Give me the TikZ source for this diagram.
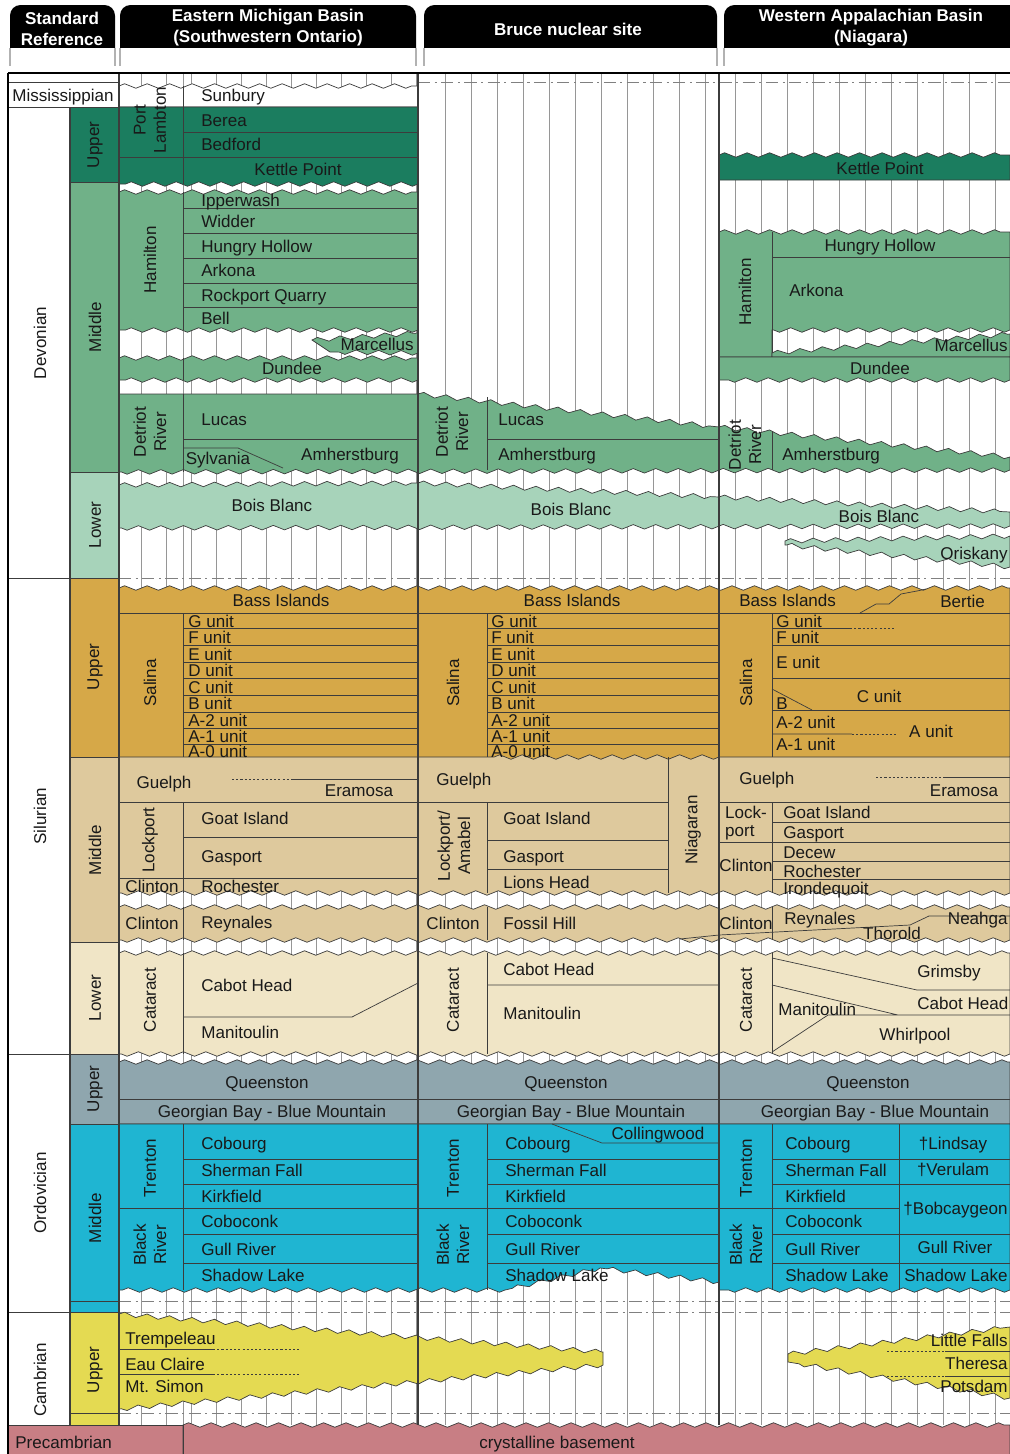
\documentclass[tikz,border=0pt]{standalone}
\usepackage{fontspec}
\setmainfont{Liberation Sans}
\usetikzlibrary{decorations.pathmorphing}

\definecolor{devU}{RGB}{27,125,95}
\definecolor{devM}{RGB}{112,177,136}
\definecolor{devL}{RGB}{167,211,186}
\definecolor{silU}{RGB}{214,168,72}
\definecolor{silM}{RGB}{222,201,157}
\definecolor{silL}{RGB}{240,229,198}
\definecolor{ordU}{RGB}{143,166,174}
\definecolor{ordM}{RGB}{31,181,210}
\definecolor{camU}{RGB}{228,218,82}
\definecolor{preC}{RGB}{200,126,132}
\definecolor{edge}{RGB}{60,60,60}
\definecolor{hatch}{RGB}{150,150,150}
\definecolor{ink}{RGB}{25,25,25}

\begin{document}
\begin{tikzpicture}[x=0.02cm, y=-0.02cm, font=\fontsize{9.7}{11.5}\selectfont,
  zz/.style={decoration={zigzag, segment length=0.45cm, amplitude=0.045cm}},
  fm/.style={fill=#1, draw=edge, line width=0.4pt, zz},
  cell/.style={fill=#1, draw=edge, line width=0.4pt},
  ln/.style={draw=edge, line width=0.4pt},
  dln/.style={draw=edge, line width=0.5pt, dash pattern=on 1.2pt off 1.2pt},
  dd/.style={draw=black!50, line width=0.5pt, dash pattern=on 7pt off 2.5pt on 1.2pt off 2.5pt},
  hl/.style={draw=hatch, line width=0.35pt},
  lbl/.style={inner sep=0pt, text=ink, text height=8.2pt, text depth=1pt, anchor=west},
  clbl/.style={inner sep=0pt, text=ink, text height=8.2pt, text depth=1pt},
  vlbl/.style={inner sep=0pt, text=ink, rotate=90, align=center},
  hdr/.style={text=white, font=\fontsize{9.7}{12}\selectfont\bfseries, align=center}]

\useasboundingbox (0,0) rectangle (1010,1454);
\clip (0,0) rectangle (1010,1454);

% cabecalho
\foreach \a/\b in {10/115, 120/416, 424/717, 724/1030} {
  \fill[black, rounded corners=6pt] (\a,5) rectangle (\b,62);
  \fill[white] (\a-1,48) rectangle (\b+1,64);
  \draw[black!30, line width=0.8pt] (\a,48) -- (\a,66) (\b,48) -- (\b,66);
}
\node[hdr] (hd-std) at (62,29) {Standard\\Reference};
\node[hdr] (hd-mich) at (268,28) {Eastern Michigan Basin\\(Southwestern Ontario)};
\node[hdr] (hd-bruce) at (568,29) {Bruce nuclear site};
\node[hdr] (hd-app) at (871,28) {Western Appalachian Basin\\(Niagara)};

% grade de lacunas
\draw[hl] (183,74) -- (183,1425);
\foreach \x in {141,166,...,417} \draw[hl] (\x,74) -- (\x,1425);
\foreach \x in {445,471,...,712} \draw[hl] (\x,74) -- (\x,1425);
\foreach \x in {735,761,...,1008} \draw[hl] (\x,74) -- (\x,1425);
\draw[dd] (418,82) -- (1010,82);
\foreach \y in {578,1301,1312,1413} \draw[dd] (119,\y) -- (1010,\y);

% coluna padrao
\path[cell=white] (8,82) rectangle (119,107);
\path[cell=white] (8,107) rectangle (70,578);
\path[cell=devU] (70,107) rectangle (119,182);
\path[cell=devM] (70,182) rectangle (119,472);
\path[cell=devL] (70,472) rectangle (119,578);
\path[cell=white] (8,578) rectangle (70,1054);
\path[cell=silU] (70,578) rectangle (119,757);
\path[cell=silM] (70,757) rectangle (119,942);
\path[cell=silL] (70,942) rectangle (119,1054);
\path[cell=white] (8,1054) rectangle (70,1312);
\path[cell=ordU] (70,1054) rectangle (119,1124);
\path[cell=ordM] (70,1124) rectangle (119,1312);
\path[cell=white] (8,1312) rectangle (70,1425);
\path[cell=camU] (70,1312) rectangle (119,1425);
\path[cell=preC] (8,1425) rectangle (183,1460);
\draw[ln] (70,1301) -- (119,1301) (70,1413) -- (119,1413);

% Devoniano
\path[fm=white] (119,86) decorate{-- (418,86)} -- (418,107) -- (119,107) -- cycle;
\path[fm=devU] (119,107) -- (418,107) -- (418,184) decorate{-- (119,184)} -- cycle;
\draw[ln] (183,86) -- (183,184) (183,132) -- (418,132) (119,157) -- (418,157);
\path[fm=devU] (719,155) decorate{-- (1010,155)} -- (1010,180) -- (719,180) -- cycle;
\path[fm=devM] (119,192) decorate{-- (418,192)} -- (418,330) decorate{-- (119,330)} -- cycle;
\draw[ln] (183,192) -- (183,330);
\foreach \y in {208,233,258,283,307} \draw[ln] (183,\y) -- (418,\y);
\path[fm=devM] (312,340) decorate{-- (418,333)} -- (418,353) decorate{-- (330,352)} -- cycle;
\path[fm=devM] (119,358) decorate{-- (418,358)} -- (418,380) decorate{-- (119,380)} -- cycle;
\draw[ln] (183,358) -- (183,380);
\path[fm=devM] (719,232) decorate{-- (1010,232)} -- (1010,330) decorate{-- (772,330)} -- (772,357) -- (719,357) -- cycle;
\draw[ln] (772,232) -- (772,357) (772,257) -- (1010,257);
\path[fm=devM] (772,353) decorate{-- (1010,334)} -- (1010,357) -- (772,357) -- cycle;
\path[fm=devM] (719,357) -- (1010,357) -- (1010,380) decorate{-- (719,380)} -- cycle;
\path[fm=devM] (119,394) -- (418,394) decorate{-- (719,427)} decorate{-- (1010,457)} -- (1010,470) decorate{-- (119,472)} -- cycle;
\draw[ln] (183,394) -- (183,472) (487,397) -- (487,470) (772,432) -- (772,470);
\draw[ln] (183,439) -- (418,439) (487,439) -- (719,439);
\draw[ln] (183,448) -- (238,448) -- (283,468);
\path[fm=devL] (119,485) decorate{-- (418,483)} decorate{-- (719,497)} decorate{-- (1010,512)} -- (1010,526) decorate{-- (119,528)} -- cycle;
\path[fm=devL] (785,541) decorate{-- (1010,536)} -- (1010,567) decorate{-- (785,545)} -- cycle;

% Siluriano
\path[fm=silM] (119,750) -- (1010,750) -- (1010,893) decorate{-- (119,893)} -- cycle;
\path[fm=silU] (119,588) decorate{-- (1010,588)} -- (1010,757) -- (719,757) decorate{-- (487,757)} -- (119,757) -- cycle;
\draw[ln] (119,613) -- (1010,613) (183,613) -- (183,757) (487,613) -- (487,757) (772,613) -- (772,757);
\foreach \y in {628,645,662,678,695,712,728,744} \draw[ln] (183,\y) -- (418,\y) (487,\y) -- (719,\y);
\draw[ln] (860,613) -- (876,604) -- (889,604) -- (901,594) -- (917,591) -- (926,589);
\draw[ln] (772,628) -- (850,628) (772,645) -- (1010,645) (772,678) -- (1010,678) (772,710) -- (1010,710);
\draw[ln] (772,689) -- (812,710) (772,734) -- (852,734);
\draw[dln] (850,628) -- (895,628) (852,734) -- (897,734);
\draw[ln] (119,802) -- (418,802) (183,837) -- (418,837) (119,878) -- (418,878) (183,802) -- (183,893);
\draw[dln] (232,779) -- (292,779);
\draw[ln] (292,779) -- (418,779);
\draw[ln] (418,802) -- (668,802) (487,840) -- (668,840) (487,869) -- (668,869) (487,802) -- (487,893) (668,757) -- (668,893);
\draw[ln] (719,802) -- (1010,802) (772,822) -- (1010,822) (719,842) -- (1010,842) (772,861) -- (1010,861) (772,879) -- (1010,879) (772,802) -- (772,893);
\draw[dln] (876,777) -- (943,777);
\draw[ln] (943,777) -- (1010,777);
\path[fm=silM] (119,907) decorate{-- (1010,907)} -- (1010,940) decorate{-- (119,940)} -- cycle;
\draw[ln] (183,907) -- (183,940) (487,907) -- (487,940) (772,907) -- (772,940);
\draw[ln] (680,939) -- (719,935) -- (910,925) -- (929,916) -- (1010,916);
\path[fm=silL] (119,953) decorate{-- (1010,953)} -- (1010,1054) decorate{-- (119,1054)} -- cycle;
\draw[ln] (183,953) -- (183,1054) (487,953) -- (487,1054) (772,953) -- (772,1054);
\draw[ln] (183,1017) -- (352,1017) -- (418,983) (487,985) -- (719,985);
\draw[ln] (772,958) -- (917,990) -- (1010,990) (772,985) -- (898,1015) (828,1015) -- (1010,1015) (828,1015) -- (772,1052);

% Ordoviciano
\path[fm=ordU] (119,1062) decorate{-- (1010,1062)} -- (1010,1124) -- (119,1124) -- cycle;
\draw[ln] (119,1099) -- (1010,1099);
\path[fm=ordM] (119,1124) -- (1010,1124) -- (1010,1290) decorate{-- (719,1290)} -- (719,1282) decorate{-- (600,1268)} decorate{-- (505,1290)} decorate{-- (119,1290)} -- cycle;
\draw[ln] (183,1124) -- (183,1290) (487,1124) -- (487,1290) (772,1124) -- (772,1290) (899,1124) -- (899,1290);
\foreach \y in {1159,1184,1234,1263} \draw[ln] (183,\y) -- (418,\y) (487,\y) -- (719,\y) (772,\y) -- (1010,\y);
\draw[ln] (119,1208) -- (719,1208) (719,1208) -- (899,1208);
\draw[ln] (552,1124) -- (602,1143) -- (719,1143);

% Cambriano
\path[fm=camU] (119,1314) decorate{-- (603,1352)} -- (603,1365) decorate{-- (119,1409)} -- cycle;
\draw[ln] (119,1349) -- (213,1349) (119,1374) -- (213,1374);
\draw[dln] (213,1349) -- (300,1349) (213,1374) -- (300,1374);
\path[fm=camU] (788,1354) decorate{-- (1010,1327)} -- (1010,1398) decorate{-- (788,1362)} -- cycle;
\draw[dln] (887,1351) -- (945,1351) (887,1376) -- (945,1376);
\draw[ln] (945,1351) -- (1010,1351) (945,1376) -- (1010,1376);

% Pre-cambriano
\path[fm=preC] (183,1425) decorate{-- (1010,1425)} -- (1010,1460) -- (183,1460) -- cycle;
\draw[ln] (183,1425) -- (183,1454);

% molduras
\draw[edge, line width=0.6pt] (119,73) -- (119,1425) (418,73) -- (418,1425) (719,73) -- (719,1425) (70,107) -- (70,1425);
\draw[line width=1.5pt] (8,73) -- (1010,73) (8,73) -- (8,1460);

% rotulos padrao
\node[clbl] (s-miss) at (63,95) {Mississippian};
\node[vlbl] (s-dev) at (40,343) {Devonian};
\node[vlbl] (s-devU) at (95,145) {Upper};
\node[vlbl] (s-devM) at (95,327) {Middle};
\node[vlbl] (s-devL) at (95,525) {Lower};
\node[vlbl] (s-sil) at (40,816) {Silurian};
\node[vlbl] (s-silU) at (95,667) {Upper};
\node[vlbl] (s-silM) at (95,850) {Middle};
\node[vlbl] (s-silL) at (95,998) {Lower};
\node[vlbl] (s-ord) at (40,1193) {Ordovician};
\node[vlbl] (s-ordU) at (95,1089) {Upper};
\node[vlbl] (s-ordM) at (95,1218) {Middle};
\node[vlbl] (s-cam) at (40,1380) {Cambrian};
\node[vlbl] (s-camU) at (95,1370) {Upper};
\node[lbl] (s-pre) at (15,1442) {Precambrian};

% rotulos Michigan
\node[vlbl] (m-portl) at (150,120) {Port\\Lambton};
\node[lbl] (m-sunbury) at (201,95) {Sunbury};
\node[lbl] (m-berea) at (201,120) {Berea};
\node[lbl] (m-bedford) at (201,144) {Bedford};
\node[clbl] (m-kettle) at (298,169) {Kettle Point};
\node[vlbl] (m-hamilton) at (150,260) {Hamilton};
\node[lbl] (m-ipper) at (201,200) {Ipperwash};
\node[lbl] (m-widder) at (201,221) {Widder};
\node[lbl] (m-hungry) at (201,246) {Hungry Hollow};
\node[lbl] (m-arkona) at (201,270) {Arkona};
\node[lbl] (m-rockport) at (201,295) {Rockport Quarry};
\node[lbl] (m-bell) at (201,318) {Bell};
\node[lbl, anchor=east] (m-marc) at (414,344) {Marcellus};
\node[clbl] (m-dundee) at (292,368) {Dundee};
\node[vlbl] (m-detroit) at (150,432) {Detriot\\River};
\node[lbl] (m-lucas) at (201,419) {Lucas};
\node[clbl] (m-amh) at (350,454) {Amherstburg};
\node[clbl] (m-sylv) at (218,458) {Sylvania};
\node[clbl] (m-bois) at (272,505) {Bois Blanc};
\node[clbl] (m-bass) at (281,600) {Bass Islands};
\node[vlbl] (m-salina) at (150,683) {Salina};
\foreach \y/\nm in {621/G,637/F,654/E,670/D,687/C,703/B,720/A-2,736/A-1,751/A-0} {
  \node[lbl] (m-\nm) at (188,\y) {\nm{} unit};
  \node[lbl] (b-\nm) at (491,\y) {\nm{} unit};
}
\node[clbl] (m-guelph) at (164,782) {Guelph};
\node[clbl] (m-eram) at (359,790) {Eramosa};
\node[vlbl] (m-lockport) at (150,840) {Lockport};
\node[lbl] (m-goat) at (201,818) {Goat Island};
\node[lbl] (m-gasport) at (201,856) {Gasport};
\node[clbl] (m-clinton1) at (152,886) {Clinton};
\node[lbl] (m-roch) at (201,886) {Rochester};
\node[clbl] (m-clinton2) at (152,923) {Clinton};
\node[lbl] (m-reyn) at (201,922) {Reynales};
\node[vlbl] (m-cataract) at (150,1000) {Cataract};
\node[lbl] (m-cabot) at (201,985) {Cabot Head};
\node[lbl] (m-manit) at (201,1032) {Manitoulin};
\node[clbl] (m-queen) at (267,1082) {Queenston};
\node[clbl] (m-georg) at (272,1111) {Georgian Bay - Blue Mountain};
\node[vlbl] (m-trenton) at (150,1168) {Trenton};
\node[vlbl] (m-black) at (150,1245) {Black\\River};
\node[lbl] (m-cobourg) at (201,1143) {Cobourg};
\node[lbl] (m-sherman) at (201,1170) {Sherman Fall};
\node[lbl] (m-kirk) at (201,1196) {Kirkfield};
\node[lbl] (m-cobo) at (201,1221) {Coboconk};
\node[lbl] (m-gull) at (201,1249) {Gull River};
\node[lbl] (m-shadow) at (201,1275) {Shadow Lake};
\node[lbl] (m-tremp) at (125,1338) {Trempeleau};
\node[lbl] (m-eau) at (125,1364) {Eau Claire};
\node[lbl] (m-simon) at (125,1386) {Mt. Simon};
\node[clbl] (basement) at (557,1442) {crystalline basement};

% rotulos Bruce
\node[vlbl] (b-detroit) at (452,432) {Detriot\\River};
\node[lbl] (b-lucas) at (498,419) {Lucas};
\node[lbl] (b-amh) at (498,454) {Amherstburg};
\node[clbl] (b-bois) at (571,509) {Bois Blanc};
\node[clbl] (b-bass) at (572,600) {Bass Islands};
\node[vlbl] (b-salina) at (453,683) {Salina};
\node[lbl] (b-guelph) at (436,779) {Guelph};
\node[vlbl] (b-lockport) at (454,846) {Lockport/\\Amabel};
\node[lbl] (b-goat) at (503,818) {Goat Island};
\node[lbl] (b-gasport) at (503,856) {Gasport};
\node[lbl] (b-lions) at (503,882) {Lions Head};
\node[vlbl] (b-niag) at (693,830) {Niagaran};
\node[clbl] (b-clinton) at (453,923) {Clinton};
\node[lbl] (b-fossil) at (503,923) {Fossil Hill};
\node[vlbl] (b-cataract) at (453,1000) {Cataract};
\node[lbl] (b-cabot) at (503,969) {Cabot Head};
\node[lbl] (b-manit) at (503,1013) {Manitoulin};
\node[clbl] (b-queen) at (566,1082) {Queenston};
\node[clbl] (b-georg) at (571,1111) {Georgian Bay - Blue Mountain};
\node[vlbl] (b-trenton) at (453,1168) {Trenton};
\node[vlbl] (b-black) at (453,1245) {Black\\River};
\node[lbl] (b-cobourg) at (505,1143) {Cobourg};
\node[clbl] (b-colling) at (658,1133) {Collingwood};
\node[lbl] (b-sherman) at (505,1170) {Sherman Fall};
\node[lbl] (b-kirk) at (505,1196) {Kirkfield};
\node[lbl] (b-cobo) at (505,1221) {Coboconk};
\node[lbl] (b-gull) at (505,1249) {Gull River};
\node[lbl] (b-shadow) at (505,1275) {Shadow Lake};

% rotulos Apalaches
\node[clbl] (w-kettle) at (880,168) {Kettle Point};
\node[vlbl] (w-hamilton) at (745,292) {Hamilton};
\node[clbl] (w-hungry) at (880,245) {Hungry Hollow};
\node[lbl] (w-arkona) at (789,290) {Arkona};
\node[lbl, anchor=east] (w-marc) at (1008,345) {Marcellus};
\node[clbl] (w-dundee) at (880,368) {Dundee};
\node[vlbl] (w-detroit) at (745,445) {Detriot\\River};
\node[lbl] (w-amh) at (782,454) {Amherstburg};
\node[clbl] (w-bois) at (879,516) {Bois Blanc};
\node[lbl, anchor=east] (w-orisk) at (1008,553) {Oriskany};
\node[lbl] (w-bass) at (739,600) {Bass Islands};
\node[lbl] (w-bertie) at (940,601) {Bertie};
\node[vlbl] (w-salina) at (746,683) {Salina};
\node[lbl] (w-G) at (776,621) {G unit};
\node[lbl] (w-F) at (776,637) {F unit};
\node[lbl] (w-E) at (776,662) {E unit};
\node[clbl] (w-C) at (879,696) {C unit};
\node[lbl] (w-B) at (776,703) {B};
\node[lbl] (w-A2) at (776,722) {A-2 unit};
\node[clbl] (w-A) at (931,731) {A unit};
\node[lbl] (w-A1) at (776,744) {A-1 unit};
\node[lbl] (w-guelph) at (739,778) {Guelph};
\node[clbl] (w-eram) at (964,790) {Eramosa};
\node[inner sep=0pt, text=ink, align=left, font=\fontsize{9.7}{10.5}\selectfont] (w-lockport) at (746,823) {Lock-\\port};
\node[lbl] (w-goat) at (783,812) {Goat Island};
\node[lbl] (w-gasport) at (783,832) {Gasport};
\node[lbl] (w-decew) at (783,852) {Decew};
\node[lbl] (w-roch) at (783,871) {Rochester};
\node[lbl] (w-iron) at (783,888) {Irondequoit};
\node[clbl] (w-clinton1) at (746,865) {Clinton};
\node[clbl] (w-clinton2) at (746,923) {Clinton};
\node[lbl] (w-reyn) at (784,918) {Reynales};
\node[clbl] (w-thor) at (892,933) {Thorold};
\node[lbl, anchor=east] (w-neah) at (1008,918) {Neahga};
\node[vlbl] (w-cataract) at (746,1000) {Cataract};
\node[clbl] (w-grims) at (949,971) {Grimsby};
\node[lbl] (w-cabot) at (917,1003) {Cabot Head};
\node[lbl] (w-manit) at (778,1009) {Manitoulin};
\node[clbl] (w-whirl) at (915,1034) {Whirlpool};
\node[clbl] (w-queen) at (868,1082) {Queenston};
\node[clbl] (w-georg) at (875,1111) {Georgian Bay - Blue Mountain};
\node[vlbl] (w-trenton) at (746,1168) {Trenton};
\node[vlbl] (w-black) at (746,1245) {Black\\River};
\node[lbl] (w-cobourg) at (785,1143) {Cobourg};
\node[lbl] (w-sherman) at (785,1170) {Sherman Fall};
\node[lbl] (w-kirk) at (785,1196) {Kirkfield};
\node[lbl] (w-cobo) at (785,1221) {Coboconk};
\node[lbl] (w-gull) at (785,1249) {Gull River};
\node[lbl] (w-shadow) at (785,1275) {Shadow Lake};
\node[clbl] (w-lindsay) at (953,1143) {†Lindsay};
\node[clbl] (w-verulam) at (953,1169) {†Verulam};
\node[lbl, anchor=east] (w-bobc) at (1008,1208) {†Bobcaygeon};
\node[clbl] (w-gull2) at (955,1247) {Gull River};
\node[lbl, anchor=east] (w-shadow2) at (1008,1275) {Shadow Lake};
\node[lbl, anchor=east] (w-little) at (1008,1340) {Little Falls};
\node[lbl, anchor=east] (w-theresa) at (1008,1363) {Theresa};
\node[lbl, anchor=east] (w-potsdam) at (1008,1386) {Potsdam};
\end{tikzpicture}
\end{document}
